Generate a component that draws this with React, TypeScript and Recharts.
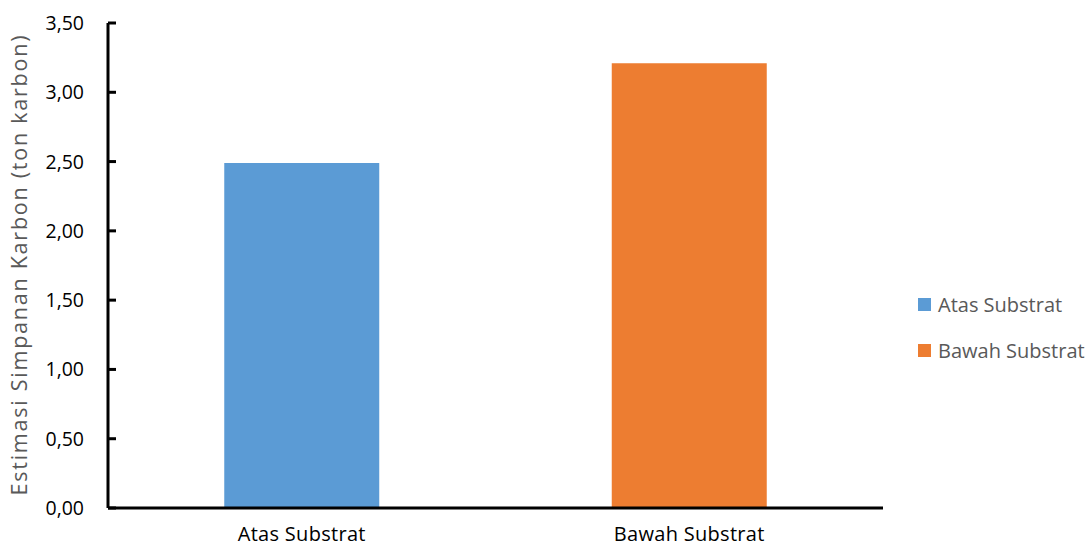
import { Bar, BarChart, Cell, XAxis, YAxis } from "recharts";

const categories = ["Atas Substrat", "Bawah Substrat"];
const carbonValues = [2.49, 3.21];
const barColors = ["#5B9BD5", "#ED7D31"];
const yTicks = [0, 0.5, 1, 1.5, 2, 2.5, 3, 3.5];
const yLabel = "Estimasi Simpanan Karbon (ton karbon)";

const data = categories.map((name, i) => ({ name, value: carbonValues[i] }));

const FONT = "'Open Sans', sans-serif";
const fmt = (v: number) => v.toFixed(2).replace(".", ",");

// ticks point inward, like the Excel original
const YTick = (props: any) => {
  const { x, y, payload } = props;
  return (
    <g>
      <line x1={x} y1={y} x2={x + 8} y2={y} stroke="#000" strokeWidth={3} />
      <text
        x={x - 24}
        y={y}
        dy="0.36em"
        textAnchor="end"
        fill="#000"
        fontSize={19.5}
        fontFamily={FONT}
      >
        {fmt(payload.value)}
      </text>
    </g>
  );
};

const YLabel = (props: any) => {
  const vb = props.viewBox || { y: 23, height: 485 };
  const cy = vb.y + vb.height / 2;
  return (
    <text
      x={27}
      y={cy}
      transform={`rotate(-90, 27, ${cy})`}
      textAnchor="middle"
      fill="#595959"
      fontSize={21.5}
      fontFamily={FONT}
      textLength={460}
      lengthAdjust="spacing"
    >
      {yLabel}
    </text>
  );
};

const App = () => {
  return (
    <div
      style={{
        position: "absolute",
        left: 0,
        top: 0,
        width: 1091,
        height: 549,
        background: "#fff",
      }}
    >
      <BarChart
        width={1091}
        height={549}
        data={data}
        margin={{ top: 23, right: 208, bottom: 0, left: 0 }}
        barCategoryGap="30%"
      >
        <XAxis
          dataKey="name"
          height={41}
          axisLine={{ stroke: "#000", strokeWidth: 3 }}
          tickLine={false}
          tickSize={0}
          tickMargin={19}
          tick={{ fill: "#000", fontSize: 20, fontFamily: FONT, letterSpacing: 0.3 }}
        />
        <YAxis
          width={108}
          domain={[0, 3.5]}
          ticks={yTicks}
          interval={0}
          tickSize={0}
          tickMargin={0}
          tickLine={false}
          axisLine={{ stroke: "#000", strokeWidth: 3 }}
          tick={<YTick />}
          label={<YLabel />}
        />
        <Bar dataKey="value" isAnimationActive={false}>
          {data.map((d, i) => (
            <Cell key={d.name} fill={barColors[i]} />
          ))}
        </Bar>
      </BarChart>
      <div
        style={{
          position: "absolute",
          left: 918,
          top: 282,
          fontFamily: FONT,
          fontSize: 20,
          color: "#595959",
        }}
      >
        {categories.map((c, i) => (
          <div
            key={c}
            style={{ display: "flex", alignItems: "center", height: 45.5, whiteSpace: "nowrap" }}
          >
            <span
              style={{
                width: 13,
                height: 13,
                background: barColors[i],
                marginRight: 7,
                display: "inline-block",
              }}
            />
            {c}
          </div>
        ))}
      </div>
    </div>
  );
};

export default App;
